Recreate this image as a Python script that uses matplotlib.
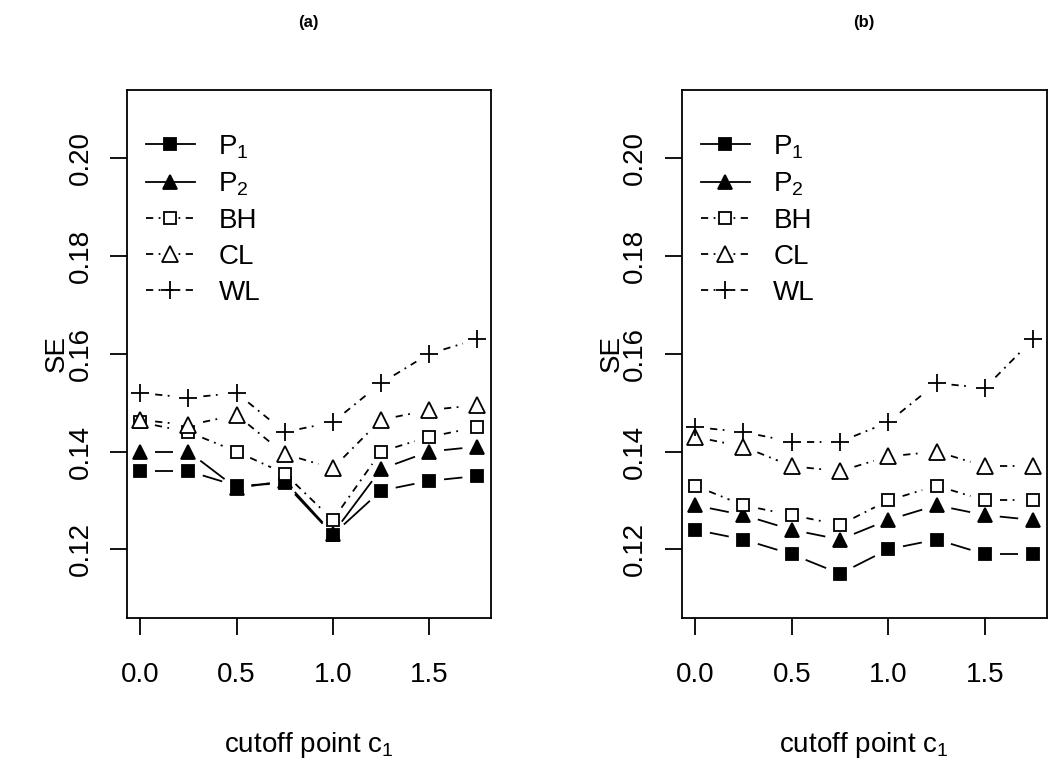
import numpy as np
import matplotlib
matplotlib.use("Agg")
import matplotlib.pyplot as plt
from matplotlib.lines import Line2D

plt.rcParams['font.family'] = ['Liberation Sans', 'DejaVu Sans']
plt.rcParams['mathtext.fontset'] = 'custom'
plt.rcParams['mathtext.rm'] = 'Liberation Sans'
plt.rcParams['mathtext.it'] = 'Liberation Sans'

# cutoff points
cutoff = [0.0, 0.25, 0.5, 0.75, 1.0, 1.25, 1.5, 1.75]

# panel (a) standard errors
a_p1 = [0.136, 0.136, 0.133, 0.1335, 0.123, 0.132, 0.134, 0.135]
a_p2 = [0.140, 0.140, 0.1325, 0.134, 0.1232, 0.1364, 0.140, 0.141]
a_bh = [0.146, 0.144, 0.140, 0.1355, 0.126, 0.140, 0.143, 0.145]
a_cl = [0.1465, 0.1454, 0.1475, 0.1395, 0.1366, 0.1465, 0.1485, 0.1495]
a_wl = [0.152, 0.151, 0.152, 0.144, 0.146, 0.154, 0.160, 0.163]

# panel (b) standard errors
b_p1 = [0.124, 0.122, 0.119, 0.115, 0.120, 0.122, 0.119, 0.119]
b_p2 = [0.129, 0.127, 0.124, 0.122, 0.126, 0.129, 0.127, 0.126]
b_bh = [0.133, 0.129, 0.127, 0.125, 0.130, 0.133, 0.130, 0.130]
b_cl = [0.143, 0.141, 0.137, 0.136, 0.139, 0.140, 0.137, 0.137]
b_wl = [0.145, 0.144, 0.142, 0.142, 0.146, 0.154, 0.153, 0.163]

labels = ['P$_1$', 'P$_2$', 'BH', 'CL', 'WL']
xticks = [0.0, 0.5, 1.0, 1.5]
xticklabels = ['0.0', '0.5', '1.0', '1.5']
yticks = [0.12, 0.14, 0.16, 0.18, 0.20]
yticklabels = ['0.12', '0.14', '0.16', '0.18', '0.20']

dotdash = (0, (4, 3, 1, 3))
styles = [
    dict(marker='s', ms=8.5, mfc='black', mec='black', ls='-'),
    dict(marker='^', ms=10.5, mfc='black', mec='black', ls='-'),
    dict(marker='s', ms=8.5, mfc='white', mec='black', ls=dotdash),
    dict(marker='^', ms=11, mfc='white', mec='black', ls=dotdash),
    dict(marker='+', ms=12.5, mfc='none', mec='black', ls=dotdash),
]

GAP = 15  # pixels, like R type="b"
LW = 1.3


def draw_b(ax, xs, ys, st):
    # lines broken around the points
    pts = ax.transData.transform(np.column_stack([xs, ys]))
    inv = ax.transData.inverted()
    for p, q in zip(pts[:-1], pts[1:]):
        d = q - p
        L = np.hypot(d[0], d[1])
        if L <= 2 * GAP:
            continue
        u = d / L
        a = inv.transform(p + u * GAP)
        b = inv.transform(q - u * GAP)
        ax.plot([a[0], b[0]], [a[1], b[1]], color='black', lw=LW,
                linestyle=st['ls'], solid_capstyle='butt', dash_capstyle='butt')
    ax.plot(xs, ys, linestyle='none', marker=st['marker'], ms=st['ms'],
            mfc=st['mfc'], mec=st['mec'], mew=1.3, zorder=3)


fig = plt.figure(figsize=(10.5, 7.66), dpi=100)
ax_a = fig.add_axes([0.1207, 0.1936, 0.3467, 0.689])
ax_b = fig.add_axes([0.6492, 0.1936, 0.3476, 0.689])

panels = [
    (ax_a, '(a)', [a_p1, a_p2, a_bh, a_cl, a_wl]),
    (ax_b, '(b)', [b_p1, b_p2, b_bh, b_cl, b_wl]),
]

for ax, title, series in panels:
    ax.set_xlim(-0.07, 1.82)
    ax.set_ylim(0.106, 0.214)
    for ys, st in zip(series, styles):
        draw_b(ax, cutoff, ys, st)

    ax.set_xticks(xticks)
    ax.set_xticklabels(xticklabels)
    ax.set_yticks(yticks)
    ax.set_yticklabels(yticklabels, rotation=90, va='center')
    ax.tick_params(axis='both', direction='out', length=12, width=1.3,
                   labelsize=20, color='black')
    ax.tick_params(axis='x', pad=20)
    ax.tick_params(axis='y', pad=12)
    for sp in ax.spines.values():
        sp.set_linewidth(1.3)

    ax.set_xlabel('cutoff point c$_1$', fontsize=20, labelpad=30)
    ax.set_ylabel('SE', fontsize=20, labelpad=-1.5)
    ax.set_title(title, fontsize=12, fontweight='bold', pad=45)

    handles = []
    for st in styles:
        handles.append(Line2D([], [], color='black', lw=LW, linestyle=st['ls'],
                              marker=st['marker'], ms=st['ms'], mfc=st['mfc'],
                              mec=st['mec'], mew=1.3))
    ax.legend(handles, labels, loc='upper left', frameon=False, fontsize=20,
              handlelength=1.75, handletextpad=0.85, labelspacing=0.36,
              borderaxespad=0.3, bbox_to_anchor=(0.0, 0.955))

fig.savefig('out.png', dpi=100)
